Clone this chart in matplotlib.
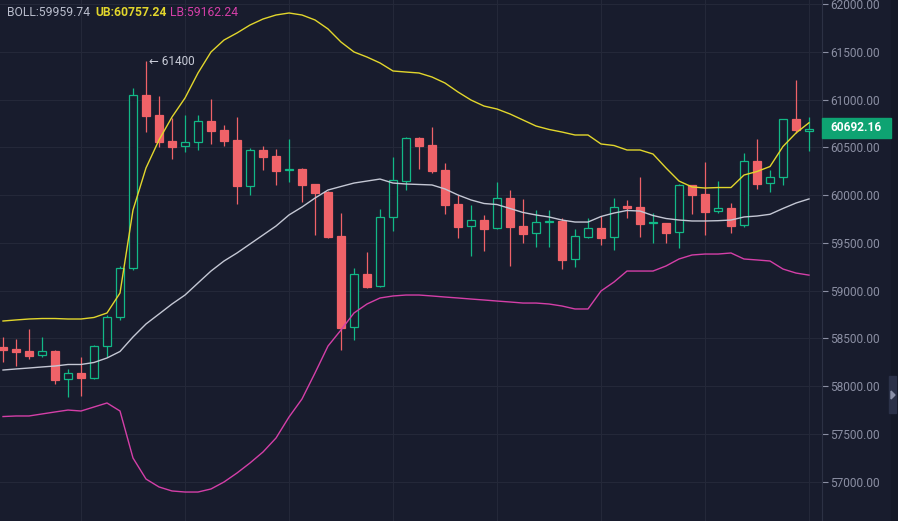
import matplotlib
matplotlib.use("Agg")
import matplotlib.pyplot as plt
from matplotlib.patches import Rectangle, Polygon
import numpy as np

# candle data
opens = [58410, 58389, 58368, 58326, 58368, 58075, 58138, 58086, 58420, 58724,
         59237, 61048, 60838, 60566, 60514, 60556, 60775, 60681, 60577, 60095,
         60472, 60409, 60263, 60273, 60116, 60032, 59572, 58619, 59174, 59048,
         59771, 60147, 60598, 60524, 60263, 59907, 59676, 59739, 59655, 59969,
         59676, 59603, 59718, 59729, 59331, 59561, 59655, 59561, 59886, 59875,
         59708, 59708, 59614, 60106, 60011, 59833, 59865, 59687, 60357, 60126,
         60189, 60796, 60672]
highs = [58515, 58494, 58598, 58515, 58379, 58180, 58305, 58431, 58745, 59258,
         61121, 61400, 61037, 60807, 60838, 60838, 61006, 60734, 60817, 60493,
         60514, 60482, 60587, 60284, 60116, 60040, 59812, 59237, 59404, 59854,
         60399, 60608, 60605, 60713, 60336, 60001, 59896, 59792, 60137, 60053,
         59959, 59844, 59844, 59760, 59645, 59760, 59781, 59969, 59949, 60189,
         59812, 59712, 60116, 60110, 60346, 60147, 59917, 60440, 60587, 60263,
         60800, 61205, 60817]
lows = [58253, 58211, 58284, 58305, 58023, 57887, 57897, 58075, 58305, 58693,
        59216, 60660, 60503, 60378, 60451, 60472, 60535, 60514, 59907, 60001,
        60263, 60106, 60137, 59928, 59582, 59555, 58379, 58483, 59027, 59038,
        59624, 60053, 60273, 60231, 59802, 59551, 59362, 59415, 59648, 59258,
        59498, 59457, 59457, 59226, 59247, 59555, 59478, 59425, 59760, 59561,
        59498, 59498, 59446, 59802, 59582, 59812, 59603, 59666, 60064, 60032,
        60106, 60650, 60461]
closes = [58379, 58358, 58316, 58368, 58065, 58138, 58086, 58420, 58724, 59237,
          61048, 60828, 60556, 60503, 60556, 60775, 60671, 60566, 60095, 60472,
          60399, 60252, 60273, 60106, 60022, 59561, 58609, 59174, 59038, 59771,
          60158, 60598, 60514, 60252, 59896, 59666, 59739, 59645, 59969, 59666,
          59593, 59718, 59729, 59321, 59572, 59655, 59551, 59875, 59865, 59697,
          59718, 59603, 60106, 60001, 59823, 59865, 59676, 60357, 60116, 60189,
          60796, 60681, 60692.16]

# bollinger bands
boll = [58169, 58180, 58190, 58201, 58211, 58227, 58227, 58248, 58295, 58363,
        58515, 58651, 58755, 58860, 58954, 59080, 59205, 59310, 59394, 59488,
        59582, 59676, 59792, 59875, 59969, 60053, 60090, 60126, 60147, 60168,
        60126, 60116, 60111, 60106, 60064, 60001, 59949, 59912, 59901, 59860,
        59818, 59792, 59771, 59739, 59718, 59718, 59776, 59812, 59839, 59833,
        59786, 59755, 59739, 59729, 59729, 59732, 59739, 59771, 59781, 59799,
        59860, 59917, 59959.74]
ub = [58682, 58693, 58703, 58708, 58708, 58703, 58703, 58719, 58766, 58975,
      59844, 60284, 60577, 60817, 61016, 61278, 61498, 61623, 61697, 61780,
      61843, 61885, 61906, 61885, 61833, 61739, 61602, 61498, 61445, 61383,
      61299, 61288, 61278, 61236, 61173, 61079, 60995, 60932, 60901, 60849,
      60786, 60723, 60687, 60660, 60629, 60629, 60535, 60519, 60472, 60472,
      60430, 60284, 60147, 60085, 60074, 60079, 60079, 60210, 60247, 60299,
      60509, 60650, 60757.24]
lb = [57682, 57688, 57688, 57709, 57730, 57750, 57740, 57782, 57824, 57740,
      57248, 57028, 56945, 56903, 56892, 56892, 56924, 56997, 57091, 57196,
      57311, 57457, 57677, 57866, 58138, 58420, 58588, 58766, 58860, 58923,
      58944, 58954, 58954, 58944, 58933, 58923, 58912, 58902, 58891, 58881,
      58870, 58870, 58860, 58839, 58808, 58808, 58996, 59090, 59205, 59205,
      59205, 59258, 59331, 59373, 59383, 59383, 59394, 59331, 59321, 59310,
      59226, 59184, 59162.24]

price_ticks = [57000, 57500, 58000, 58500, 59000, 59500, 60000, 60500, 61000, 61500, 62000]
last_price = 60692.16
high_mark = 61400

bg = "#181c2d"
grid_c = "#242839"
green = "#12b886"
red = "#ef6268"
yellow = "#e2d62c"
pink = "#d43fa8"
mid_c = "#c4c7d4"
label_c = "#8b8fa3"

plt.rcParams['font.family'] = ['Roboto', 'DejaVu Sans']

W, H = 898, 521
fig = plt.figure(figsize=(W / 100, H / 100), dpi=100, facecolor=bg)
ax = fig.add_axes([0, 0, 822 / W, 1], facecolor=bg)

o = np.array(opens, dtype=float)
c = np.array(closes, dtype=float)
hi = np.array(highs, dtype=float)
lo = np.array(lows, dtype=float)
x = np.arange(len(o))
up = c >= o

cols = np.where(up, green, red)
ax.vlines(x, lo, hi, colors=cols, linewidth=0.9, zorder=2)
bottom = np.minimum(o, c)
height = np.maximum(np.abs(c - o), 14)
ax.bar(x, height, bottom=bottom, width=0.66,
       color=np.where(up, bg, red), edgecolor=cols, linewidth=0.9, zorder=3)

ax.plot(x, boll, color=mid_c, lw=1.0, zorder=4)
ax.plot(x, ub, color=yellow, lw=1.0, zorder=4)
ax.plot(x, lb, color=pink, lw=1.0, zorder=4)

# high marker
ax.annotate("\u2190 " + str(high_mark), xy=(11, high_mark), xytext=(3, 0),
            textcoords="offset pixels", color="#c9ccd8", fontsize=8.5,
            va="center", ha="left", zorder=5)

# axes ranges: 13 px per candle, first candle at 3 px
xmin = -3 / 13
ax.set_xlim(xmin, xmin + 822 / 13)
ax.set_ylim(62042 - 10.467 * H, 62042)

ax.set_xticks(range(6, len(o), 8))
ax.set_yticks(price_ticks)
ax.set_yticklabels([f"{v:.2f}" for v in price_ticks])
ax.yaxis.tick_right()
ax.tick_params(axis="x", length=0, labelbottom=False)
ax.tick_params(axis="y", colors=label_c, length=4, width=0.8, pad=2, labelsize=8.6)
ax.grid(True, color=grid_c, linewidth=0.8, zorder=0)
for s in ["top", "left", "bottom"]:
    ax.spines[s].set_visible(False)
ax.spines["right"].set_color("#2c3144")
ax.spines["right"].set_linewidth(0.8)

# last price tag
fig.patches.append(Rectangle((822 / W, 1 - 138 / H), 69 / W, 20 / H,
                             transform=fig.transFigure, color="#0ea372", zorder=5))
fig.text(830 / W, 1 - 128 / H, f"{last_price:.2f}", color="white",
         fontsize=8.6, fontweight="bold", va="center", ha="left", zorder=6)

# right edge strip and handle
fig.patches.append(Rectangle((891 / W, 0), 7 / W, 1, transform=fig.transFigure,
                             color="#141826", zorder=1))
fig.patches.append(Rectangle((889 / W, 1 - 413 / H), 7 / W, 37 / H,
                             transform=fig.transFigure, color="#2b3148", zorder=2))
fig.patches.append(Polygon([(891 / W, 1 - 391 / H), (891 / W, 1 - 399 / H),
                            (895 / W, 1 - 395 / H)], closed=True,
                           transform=fig.transFigure, color="#8a90a8", zorder=3))

# legend text
fig.text(7 / W, 1 - 13 / H, f"BOLL:{boll[-1]:.2f}", color="#b9bdcc",
         fontsize=8.7, va="center", ha="left")
fig.text(95 / W, 1 - 13 / H, f"UB:{ub[-1]:.2f}", color=yellow,
         fontsize=8.7, fontweight="bold", va="center", ha="left")
fig.text(170 / W, 1 - 13 / H, f"LB:{lb[-1]:.2f}", color=pink,
         fontsize=8.7, va="center", ha="left")

fig.savefig("out.png", dpi=100, facecolor=bg)
